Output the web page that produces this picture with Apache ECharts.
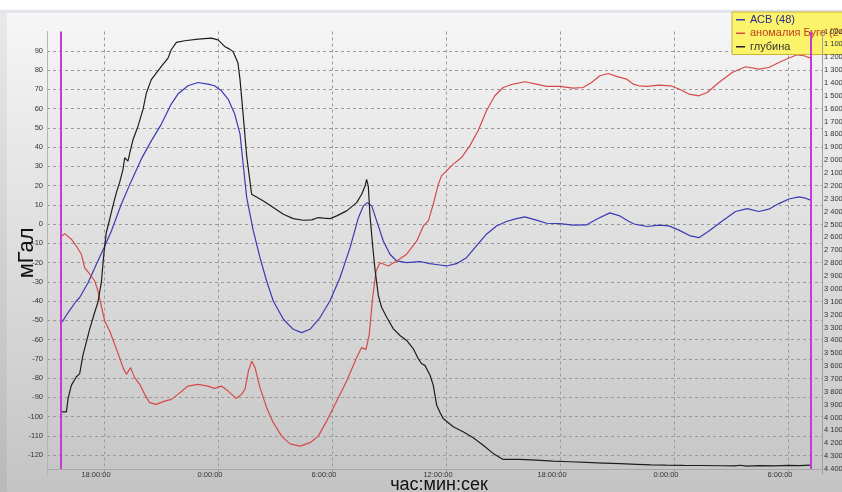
<!DOCTYPE html>
<html><head><meta charset="utf-8">
<script src="https://cdn.jsdelivr.net/npm/echarts@6/dist/echarts.min.js"></script>
<style>html,body{margin:0;padding:0;background:#fff}#c{width:842px;height:492px}</style>
</head><body><div id="c"></div>
<script>
const seriesNames = ['АСВ (48)', 'аномалия Буге (248)', 'глубина'];
const xTickHours = [18, 24, 30, 36, 42, 48, 54];
const xTickLabels = ['18:00:00', '0:00:00', '6:00:00', '12:00:00', '18:00:00', '0:00:00', '6:00:00'];
const markerHours = [15.74, 55.22];

const asvData = [[15.79,-51],[16.11,-46],[16.54,-40],[16.72,-38.2],[17.16,-30.5],[17.6,-20.9],[18.0,-12.3],[18.39,-3.6],[18.91,10.3],[19.44,22.4],[19.96,33.7],[20.49,43.2],[21.02,51.9],[21.54,62.3],[21.89,67.5],[22.42,71.8],[22.95,73.5],[23.47,72.7],[23.82,71.8],[24.18,69.2],[24.53,64.9],[24.88,57.1],[25.16,46.7],[25.33,30.5],[25.51,13.7],[25.86,-3.6],[26.21,-17.5],[26.56,-29.6],[26.91,-40],[27.44,-49.5],[27.96,-54.7],[28.4,-56.4],[28.84,-54.7],[29.37,-48.6],[29.89,-40],[30.42,-27.9],[30.95,-12.3],[31.39,3.3],[31.65,9.4],[31.86,11.1],[32.09,9.4],[32.35,1.6],[32.7,-8.8],[33.05,-15.7],[33.4,-19.2],[33.93,-20.1],[34.63,-19.5],[35.16,-20.6],[35.68,-21.3],[36.03,-21.8],[36.55,-20.6],[37.08,-17.5],[37.6,-11.4],[38.13,-5.3],[38.66,-1],[39.18,1.3],[39.71,2.8],[40.15,3.7],[40.76,2],[41.29,0.4],[41.99,0.2],[42.69,-0.6],[43.39,-0.5],[43.92,2.5],[44.62,5.8],[45.15,4.2],[45.59,1.6],[45.9,0],[46.15,-0.5],[46.59,-1.3],[47.2,-0.6],[47.73,-1],[48.26,-3.2],[48.87,-6.2],[49.31,-7.1],[49.84,-3.6],[50.54,1.6],[51.24,6.5],[51.85,8],[52.47,6.5],[52.99,7.7],[53.52,10.6],[54.05,13],[54.57,14.1],[54.92,13.4],[55.19,12.4]];

const bouguerData = [[15.79,-6.2],[15.93,-5],[16.02,-4.5],[16.28,-7.9],[16.54,-11.4],[16.81,-15.7],[16.98,-22.7],[17.25,-26.1],[17.51,-29.6],[17.68,-34.8],[17.86,-42.6],[18.04,-50.4],[18.3,-55.6],[18.56,-62.5],[18.82,-69.4],[19.0,-74.6],[19.18,-78.1],[19.4,-74.6],[19.61,-79.8],[19.88,-83.3],[20.14,-88.5],[20.4,-92.8],[20.75,-93.7],[21.19,-92],[21.54,-91.1],[21.89,-88.5],[22.42,-84.2],[22.95,-83.3],[23.47,-84.2],[23.82,-85.4],[24.18,-84.2],[24.53,-86.8],[24.96,-90.6],[25.23,-88.5],[25.42,-85.9],[25.6,-76.4],[25.77,-71.2],[25.95,-74.6],[26.21,-85],[26.56,-95.4],[26.91,-103.2],[27.35,-110.2],[27.79,-114.2],[28.32,-115.4],[28.84,-113.6],[29.28,-110.2],[29.72,-102.4],[30.25,-92],[30.77,-81.6],[31.3,-69.4],[31.56,-64.2],[31.79,-65.1],[31.96,-57.3],[32.14,-38.2],[32.32,-24.4],[32.53,-20.1],[32.96,-21.8],[33.4,-19.2],[33.93,-15.7],[34.46,-8.8],[34.81,-1],[35.07,1.6],[35.33,10.3],[35.6,20.7],[35.76,25],[36.03,27.6],[36.38,31.1],[36.82,34.5],[37.25,40.6],[37.69,48.4],[38.13,58.8],[38.57,66.6],[39.01,70.9],[39.54,72.7],[40.15,73.9],[40.76,72.7],[41.29,71.5],[41.99,71.5],[42.69,70.6],[43.22,70.9],[43.66,73.5],[44.1,77],[44.54,78.2],[44.97,76.7],[45.5,75.3],[45.85,72.7],[46.15,71.8],[46.59,71.5],[47.2,72.1],[47.82,71.8],[48.26,70.1],[48.78,67.5],[49.31,66.6],[49.75,68.3],[50.36,73.5],[51.06,78.7],[51.76,81.7],[52.47,80.5],[52.99,81.3],[53.52,83.9],[54.05,86.2],[54.48,87.9],[54.84,87.4],[55.19,86.2]];

const depthData = [[15.79,3956],[16.02,3956],[16.11,3853],[16.28,3750],[16.54,3685],[16.72,3659],[16.89,3517],[17.07,3414],[17.25,3311],[17.51,3182],[17.68,3104],[17.86,2949],[18.0,2717],[18.12,2562],[18.3,2459],[18.47,2356],[18.65,2252],[18.82,2175],[19.0,2072],[19.09,1981],[19.26,2007],[19.4,1917],[19.53,1839],[19.79,1736],[20.05,1607],[20.23,1478],[20.49,1374],[20.75,1323],[21.02,1271],[21.37,1207],[21.54,1142],[21.81,1085],[22.25,1072],[22.95,1059],[23.65,1052],[24.0,1065],[24.35,1116],[24.61,1137],[24.79,1155],[25.05,1245],[25.16,1374],[25.33,1658],[25.51,1968],[25.77,2265],[25.86,2278],[26.39,2317],[26.91,2368],[27.44,2420],[27.96,2454],[28.49,2467],[28.93,2464],[29.28,2446],[29.54,2451],[29.89,2454],[30.25,2433],[30.77,2394],[31.3,2330],[31.56,2265],[31.74,2201],[31.82,2149],[31.91,2201],[32.0,2433],[32.14,2665],[32.26,2846],[32.44,3053],[32.61,3143],[32.88,3221],[33.23,3311],[33.58,3363],[33.93,3401],[34.28,3466],[34.54,3543],[34.72,3582],[34.89,3595],[35.16,3672],[35.33,3750],[35.51,3905],[35.68,3960],[35.85,4008],[36.38,4072],[36.9,4111],[37.43,4158],[37.96,4215],[38.48,4279],[39.01,4326],[39.89,4326],[40.76,4331],[41.64,4339],[42.52,4344],[43.39,4349],[44.27,4354],[45.15,4359],[46.03,4364],[46.8,4368],[47.6,4370],[48.5,4372],[49.5,4373],[50.5,4375],[51.2,4376],[51.5,4371],[51.8,4378],[52.5,4374],[53.3,4376],[54.0,4372],[54.6,4374],[55.19,4370]];

const FONT = '"Liberation Sans", Arial, sans-serif';
const chart = echarts.init(document.getElementById('c'), null, {renderer: 'canvas'});
const fmtThousands = v => v >= 1000 ? Math.floor(v / 1000) + ' ' + String(v % 1000).padStart(3, '0') : String(v);
const gridLine = {show: true, lineStyle: {color: '#9a9a9a', type: [3, 3], width: 1}};

chart.setOption({
  animation: false,
  backgroundColor: {type: 'linear', x: 0, y: 0, x2: 0, y2: 1, colorStops: [
    {offset: 0, color: '#ffffff'}, {offset: 0.019, color: '#ffffff'},
    {offset: 0.02, color: '#e2e6eb'}, {offset: 0.026, color: '#e2e6eb'},
    {offset: 0.027, color: '#f6f6f6'}, {offset: 1, color: '#c4c4c4'}]},
  graphic: [{type: 'rect', left: 0, top: 13, shape: {width: 7, height: 479}, style: {fill: 'rgba(0,0,0,0.05)'}, silent: true, z: -1}],
  grid: {left: 47, right: 20, top: 31.5, bottom: 17.75, containLabel: false, outerBoundsMode: 'none'},
  legend: {
    orient: 'vertical', left: 732, top: 12, padding: [1, 3, 1, 4], itemGap: 0,
    itemWidth: 9, itemHeight: 1.5, icon: 'rect',
    backgroundColor: '#fbf46a', borderColor: '#c9b33a', borderWidth: 1,
    textStyle: {fontSize: 11, fontFamily: FONT, lineHeight: 13.5},
    data: [
      {name: seriesNames[0], textStyle: {color: '#2c2c8c'}},
      {name: seriesNames[1], textStyle: {color: '#c0401e'}},
      {name: seriesNames[2], textStyle: {color: '#333333'}}]
  },
  xAxis: {
    type: 'value', min: 15, max: 15 + 775 / 19, offset: -5.25,
    axisLine: {show: true, onZero: false, lineStyle: {color: '#a8a8a8'}},
    axisTick: {show: false, customValues: xTickHours},
    axisLabel: {customValues: xTickHours, formatter: v => xTickLabels[xTickHours.indexOf(v)] || '',
      fontSize: 7.5, fontFamily: FONT, color: '#333', margin: 2, padding: [0, 16, 0, 0]},
    splitLine: gridLine,
    name: 'час:мин:сек', nameLocation: 'middle', nameGap: 7.5, nameMoveOverlap: false,
    nameTextStyle: {fontSize: 18, fontFamily: FONT, color: '#111', padding: [0, 0, 0, 9]}
  },
  yAxis: [{
    type: 'value', min: -130, max: 100, interval: 10, position: 'left',
    axisLine: {show: true, onZero: false, lineStyle: {color: '#b4b4b4'}},
    axisTick: {show: false},
    axisLabel: {fontSize: 7.5, fontFamily: FONT, color: '#333', margin: 4, showMinLabel: false, showMaxLabel: false},
    splitLine: Object.assign({showMinLine: false, showMaxLine: false}, gridLine),
    name: 'мГал', nameLocation: 'middle', nameGap: 9, nameMoveOverlap: false,
    nameTextStyle: {fontSize: 22, fontFamily: FONT, color: '#111'}
  }, {
    type: 'value', min: 1000, max: 4441, interval: 100, position: 'right', inverse: true, z: 10,
    axisLine: {show: true, onZero: false, lineStyle: {color: '#a0a0a0'}},
    axisTick: {show: false},
    axisLabel: {fontSize: 7.5, fontFamily: FONT, color: '#333', margin: 2, showMaxLabel: false, formatter: fmtThousands},
    splitLine: {show: false}
  }],
  series: [{
    name: seriesNames[0], type: 'line', data: asvData, yAxisIndex: 0, showSymbol: false,
    lineStyle: {color: '#3a3ab4', width: 1.2}, itemStyle: {color: '#3a3ab4'},
    markLine: {symbol: 'none', silent: true, label: {show: false},
      lineStyle: {color: '#c43cd4', width: 2, type: 'solid'},
      data: markerHours.map(h => [{coord: [h, -127.3]}, {coord: [h, 100]}])}
  }, {
    name: seriesNames[1], type: 'line', data: bouguerData, yAxisIndex: 0, showSymbol: false,
    lineStyle: {color: '#d64a4a', width: 1.2}, itemStyle: {color: '#d64a4a'}
  }, {
    name: seriesNames[2], type: 'line', data: depthData, yAxisIndex: 1, showSymbol: false,
    lineStyle: {color: '#1e1e1e', width: 1.2}, itemStyle: {color: '#1e1e1e'}
  }]
});
</script></body></html>
